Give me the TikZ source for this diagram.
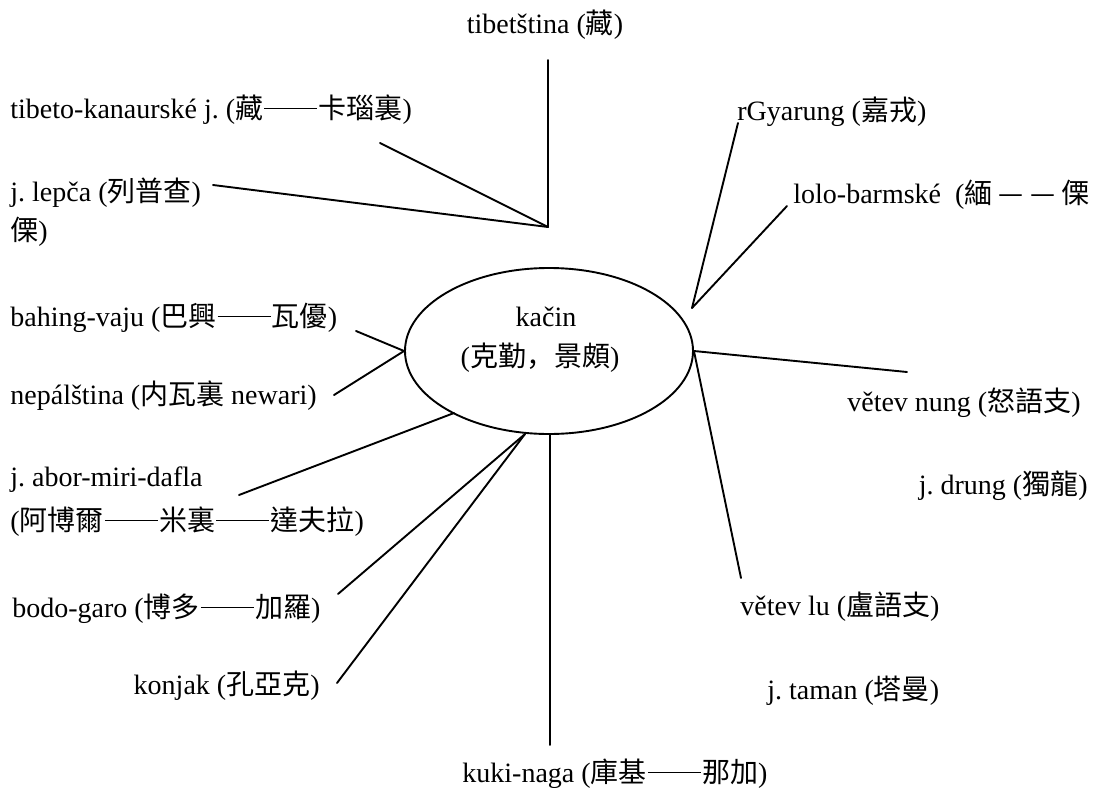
\documentclass[tikz,border=0pt]{standalone}
\usepackage{fontspec}
\setmainfont{Liberation Serif}
\newfontfamily\cjk{Noto Sans CJK TC}
\newfontfamily\cjksc{Noto Sans CJK SC}
\usetikzlibrary{shapes.geometric}
\newcommand{\ldash}{\hspace{0.04em}\raisebox{0.34em}{\rule{1.9em}{0.055em}}\hspace{0.04em}}
\frenchspacing
\begin{document}
\begin{tikzpicture}[x=0.5pt,y=-0.5pt,
  lbl/.style={inner sep=0pt, anchor=west, font=\fontsize{14}{17}\selectfont},
  conn/.style={line width=0.95pt, line cap=round},
  hub/.style={draw, ellipse, line width=0.95pt, minimum width=144pt, minimum height=83pt, inner sep=0pt}]
\useasboundingbox (0,0) rectangle (1102,787);
% central ellipse
\node[hub] (e) at (549,351) {};
\node[lbl, anchor=center] (k1) at (546,317) {kačin};
\node[lbl, anchor=center] (k2) at (540,358) {({\cjk 克勤}{\cjksc ，}{\cjk 景頗})};
% labels
\node[lbl, anchor=center] (tib) at (545,25) {tibetština ({\cjk 藏})};
\node[lbl] (kan) at (10,110) {tibeto-kanaurské j. ({\cjk 藏\ldash 卡瑙裏})};
\node[lbl] (lep) at (10,193) {j. lepča ({\cjk 列普查})};
\node[lbl] (lil) at (10,232) {{\cjk 傈})};
\node[lbl] (rgy) at (737,112) {rGyarung ({\cjk 嘉戎})};
\node[lbl] (lol) at (793,195) {lolo-barmské\enspace({\cjk 緬 — — 傈}};
\node[lbl] (bah) at (10,318) {bahing-vaju ({\cjk 巴興\ldash 瓦優})};
\node[lbl] (nep) at (10,396) {nepálština ({\cjk 内瓦裏} newari)};
\node[lbl] (ab1) at (10,480) {j. abor-miri-dafla};
\node[lbl] (ab2) at (10,522) {({\cjk 阿博爾\ldash 米裏\ldash 達夫拉})};
\node[lbl] (bod) at (12,609) {bodo-garo ({\cjk 博多\ldash 加羅})};
\node[lbl, anchor=east] (kon) at (320,686) {konjak ({\cjk 孔亞克})};
\node[lbl] (kuk) at (462,774) {kuki-naga ({\cjk 庫基\ldash 那加})};
\node[lbl, anchor=east] (nun) at (1081,403) {větev nung ({\cjk 怒語支})};
\node[lbl, anchor=east] (dru) at (1088,486) {j. drung ({\cjk 獨龍})};
\node[lbl] (vlu) at (740,607) {větev lu ({\cjk 盧語支})};
\node[lbl] (tam) at (767,691) {j. taman ({\cjk 塔曼})};
% connector ends
\coordinate (jt) at (548,227);
\coordinate (t1) at (548,60);
\coordinate (t2) at (380,143);
\coordinate (t3) at (213,185);
\coordinate (jr) at (692,308);
\coordinate (r1) at (738,123);
\coordinate (r2) at (787,206);
\coordinate (b1) at (356,331);
\coordinate (n1) at (334,395);
\coordinate (a1) at (239,495);
\coordinate (ea) at (454,413);
\coordinate (bo1) at (338,594);
\coordinate (ko1) at (337,683);
\coordinate (eb) at (525,434);
\coordinate (ku1) at (550,745);
\coordinate (eku) at (550,434);
\coordinate (nu1) at (907,372);
\coordinate (lu1) at (741,578);
% connectors
\draw[conn] (t1) -- (jt);
\draw[conn] (t2) -- (jt);
\draw[conn] (t3) -- (jt);
\draw[conn] (r1) -- (jr);
\draw[conn] (r2) -- (jr);
\draw[conn] (b1) -- (e.west);
\draw[conn] (n1) -- (e.west);
\draw[conn] (a1) -- (ea);
\draw[conn] (bo1) -- (eb);
\draw[conn] (ko1) -- (eb);
\draw[conn] (ku1) -- (eku);
\draw[conn] (nu1) -- (e.east);
\draw[conn] (lu1) -- (e.east);
\end{tikzpicture}
\end{document}
